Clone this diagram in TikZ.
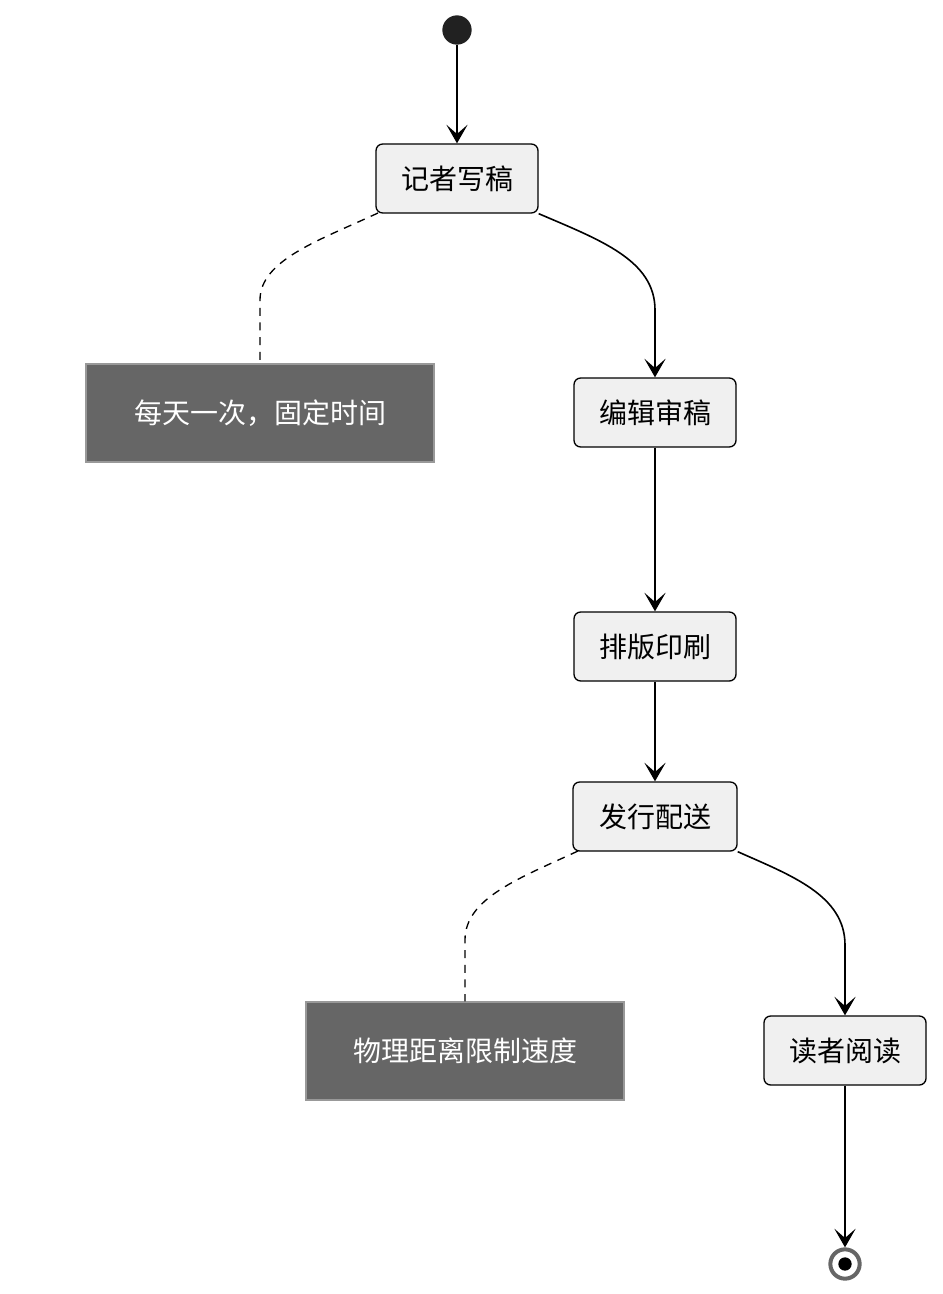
\documentclass[tikz,border=0pt]{standalone}
\usepackage{fontspec}
\setmainfont{Noto Sans CJK SC}
\usetikzlibrary{arrows.meta}
\begin{document}
\begin{tikzpicture}[x=0.75pt,y=-0.75pt,
  act/.style={draw=black,line width=1pt,rounded corners=5pt,fill=gray!12,minimum height=51.75pt,inner xsep=10pt,font=\fontsize{21}{24}\selectfont},
  note/.style={draw=gray!80,line width=1pt,fill=black!60,text=white,minimum height=73.5pt,font=\fontsize{21}{24}\selectfont},
  flow/.style={line width=1.2pt,-{Stealth[length=14pt,width=16pt,inset=7pt]}},
  link/.style={line width=1pt,dash pattern=on 6pt off 5pt}]
\useasboundingbox (0,0) rectangle (942,1294);
\node[circle,fill=black!87,minimum size=22pt,inner sep=0] (s) at (457,30) {};
\node[act,minimum width=121.5pt] (a) at (457,178.5) {记者写稿};
\node[note,minimum width=261pt] (n1) at (260,413) {每天一次，固定时间};
\node[act,minimum width=121.5pt] (b) at (655,412.5) {编辑审稿};
\node[act,minimum width=121.5pt] (c) at (655,646.5) {排版印刷};
\node[act,minimum width=123pt] (d) at (655,816.5) {发行配送};
\node[note,minimum width=238.5pt] (n2) at (465,1051) {物理距离限制速度};
\node[act,minimum width=121.5pt] (e) at (845,1050.5) {读者阅读};
\node[circle,draw=black!60,line width=3pt,fill=white,minimum size=22pt,inner sep=0] (f) at (845,1264) {};
\node[circle,fill=black,minimum size=10pt,inner sep=0] at (f) {};
\draw[flow] (s) -- (a);
\draw[flow] (a.south east) .. controls (600,240) and (655,260) .. (655,310) -- (b.north);
\draw[flow] (b) -- (c);
\draw[flow] (c) -- (d);
\draw[flow] (d.south east) .. controls (790,875) and (845,895) .. (845,945) -- (e.north);
\draw[flow] (e) -- (f);
\draw[link] (378,213) .. controls (320,240) and (260,260) .. (260,300) -- (n1.north);
\draw[link] (578,851) .. controls (520,878) and (465,898) .. (465,940) -- (n2.north);
\end{tikzpicture}
\end{document}
